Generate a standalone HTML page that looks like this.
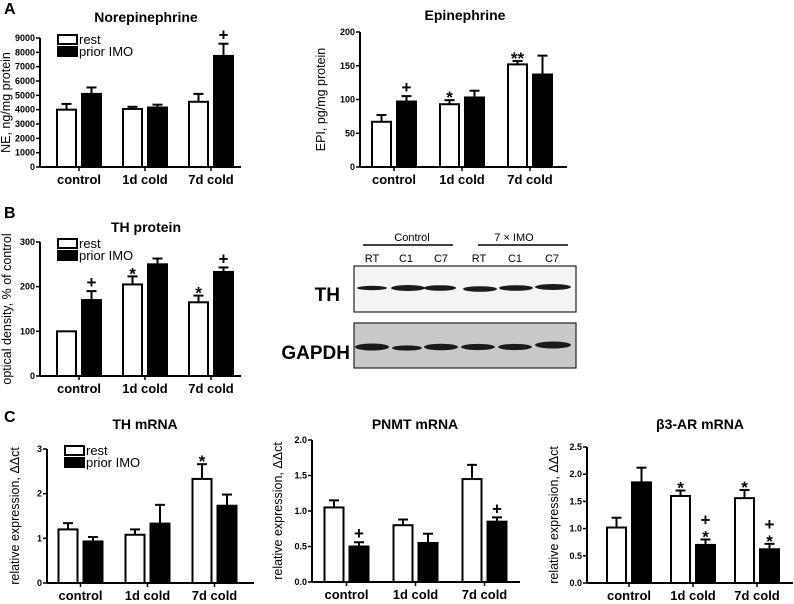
<!DOCTYPE html>
<html><head><meta charset="utf-8">
<style>
html,body{margin:0;padding:0;background:#fff;}
svg{display:block;font-family:"Liberation Sans",Arial,sans-serif;}
.tk{font-size:9px;font-weight:bold;}
.xl{font-size:13px;font-weight:bold;}
.tt{font-size:14px;font-weight:bold;}
.yl{font-size:12.5px;}
.pl{font-size:16px;font-weight:bold;}
.lg{font-size:13px;}
.an{font-size:17px;font-weight:bold;}
</style></head>
<body>
<svg id="fig" width="794" height="604" viewBox="0 0 794 604">
<text class="pl" x="4" y="14">A</text>
<text class="pl" x="4" y="218">B</text>
<text class="pl" x="4" y="422">C</text>

<g>
<text x="412" y="241" font-size="11" text-anchor="middle">Control</text>
<line x1="363" y1="245" x2="453" y2="245" stroke="#000" stroke-width="1.5"/>
<text x="514" y="241" font-size="11" text-anchor="middle">7 × IMO</text>
<line x1="478" y1="245" x2="568" y2="245" stroke="#000" stroke-width="1.5"/>
<g font-size="11" text-anchor="middle">
<text x="372" y="262">RT</text><text x="406" y="262">C1</text><text x="441" y="262">C7</text>
<text x="479" y="262">RT</text><text x="515" y="262">C1</text><text x="552" y="262">C7</text>
</g>
<text x="340" y="301" font-size="19" font-weight="bold" text-anchor="end">TH</text>
<text x="350" y="359" font-size="19" font-weight="bold" text-anchor="end">GAPDH</text>
<rect x="354" y="266" width="222" height="46" fill="#f4f4f4" stroke="#222" stroke-width="1.2"/>
<rect x="354" y="323" width="222" height="45" fill="#c9c9c9" stroke="#222" stroke-width="1.2"/>
<g fill="#1a1a1a">
<ellipse cx="372" cy="288" rx="15" ry="2.2"/><ellipse cx="408" cy="288" rx="17" ry="3"/><ellipse cx="440" cy="288" rx="16" ry="2.8"/>
<ellipse cx="480" cy="289" rx="17" ry="2.8"/><ellipse cx="516" cy="288" rx="17" ry="2.8"/><ellipse cx="553" cy="287" rx="18" ry="3"/>
<ellipse cx="372" cy="347" rx="17" ry="3.5"/><ellipse cx="407" cy="348" rx="15" ry="2.6"/><ellipse cx="441" cy="347" rx="17" ry="3.3"/>
<ellipse cx="478" cy="347" rx="17" ry="3.1"/><ellipse cx="515" cy="347" rx="17" ry="3.1"/><ellipse cx="553" cy="345" rx="18" ry="3.5"/>
</g>
</g>
</svg>
<script>
const categories = ["control","1d cold","7d cold"];

const neRest = [4000,4050,4550];
const neRestErr = [400,150,550];
const neImo = [5100,4150,7750];
const neImoErr = [450,200,850];
const neTicks = [0,1000,2000,3000,4000,5000,6000,7000,8000,9000];

const epiRest = [67,93,152];
const epiRestErr = [10,6,5];
const epiImo = [97,103,137];
const epiImoErr = [8,10,28];
const epiTicks = [0,50,100,150,200];

const thpRest = [100,205,165];
const thpRestErr = [0,18,15];
const thpImo = [170,250,233];
const thpImoErr = [20,13,10];
const thpTicks = [0,100,200,300];

const thmRest = [1.2,1.08,2.33];
const thmRestErr = [0.14,0.12,0.33];
const thmImo = [0.93,1.33,1.73];
const thmImoErr = [0.1,0.42,0.25];
const thmTicks = [0,1,2,3];

const pnmtRest = [1.05,0.8,1.45];
const pnmtRestErr = [0.1,0.08,0.2];
const pnmtImo = [0.5,0.55,0.85];
const pnmtImoErr = [0.06,0.13,0.06];
const pnmtTicks = [0,0.5,1.0,1.5,2.0];

const b3Rest = [1.02,1.6,1.56];
const b3RestErr = [0.18,0.1,0.15];
const b3Imo = [1.85,0.7,0.62];
const b3ImoErr = [0.27,0.1,0.1];
const b3Ticks = [0,0.5,1.0,1.5,2.0,2.5];

const NS="http://www.w3.org/2000/svg";
const fig=document.getElementById('fig');
function mk(tag,attrs,parent,text){const e=document.createElementNS(NS,tag);for(const k in attrs)e.setAttribute(k,attrs[k]);if(text!==undefined)e.textContent=text;parent.appendChild(e);return e;}

function chart(c){
  const g=mk('g',{},fig);
  
  
  const ymax=c.ticks[c.ticks.length-1];
  const y=v=>c.yb-(v/ymax)*(c.yb-c.yt);
  const xc=i=>c.x0+(i+0.5)*c.step;
  const bw=19, off=3;
  const t=mk('text',{class:'tt',x:c.tx,y:c.ty,'text-anchor':'middle'},g,c.title);
  
  
  const yl=mk('text',{class:'yl',transform:`translate(${c.ylx},${(c.yb+c.yt)/2}) rotate(-90)`,'text-anchor':'middle'},g,c.ylabel);
  
  
  const ya=mk('line',{x1:c.ax,y1:c.yt,x2:c.ax,y2:c.yb,stroke:'#000','stroke-width':2},g);
  
  
  const xa=mk('line',{x1:c.ax,y1:c.yb,x2:c.xr,y2:c.yb,stroke:'#000','stroke-width':2},g);
  
  
  c.ticks.forEach(v=>{
    mk('line',{x1:c.ax-4,y1:y(v),x2:c.ax,y2:y(v),stroke:'#000','stroke-width':1.5},g);
    const tl=mk('text',{class:'tk',x:c.ax-5,y:y(v)+3,'text-anchor':'end'},g,c.fmt?c.fmt(v):String(v));
    
    
  });
  categories.forEach((cat,i)=>{
    mk('line',{x1:xc(i),y1:c.yb,x2:xc(i),y2:c.yb+4,stroke:'#000','stroke-width':1.5},g);
    const xl=mk('text',{class:'xl',x:xc(i),y:c.yb+17,'text-anchor':'middle'},g,cat);
    
    
    const series=[[c.rest,c.restErr,'#fff',xc(i)-off-bw,'bar-rest'],[c.imo,c.imoErr,'#000',xc(i)+off,'bar-prior-imo']];
    series.forEach(([vals,errs,fill,bx,nm])=>{
      const v=vals[i], e=errs[i], cx=bx+bw/2;
      if(e>0){
        mk('line',{x1:cx,y1:y(v),x2:cx,y2:y(v+e),stroke:'#000','stroke-width':2},g);
        mk('line',{x1:cx-5,y1:y(v+e),x2:cx+5,y2:y(v+e),stroke:'#000','stroke-width':2},g);
      }
      const r=mk('rect',{x:bx,y:y(v),width:bw,height:c.yb-y(v),fill:fill,stroke:'#000','stroke-width':2},g);
      
      
    });
    const anns=[[c.annRest,c.rest,c.restErr,xc(i)-off-bw/2],[c.annImo,c.imo,c.imoErr,xc(i)+off+bw/2]];
    anns.forEach(([arr,vals,errs,cx])=>{
      if(!arr||!arr[i])return;
      const lines=arr[i].split('|');
      let yy=y(vals[i]+errs[i])-3;
      for(let k=lines.length-1;k>=0;k--){
        const s=lines[k];
        const a=mk('text',{class:'an',x:cx,y:yy+(s.includes('*')?6:0),'text-anchor':'middle'},g,s);
        
        
        yy-=11;
      }
    });
  });
  if(c.legend){
    const lx=c.ax+18, ly=c.yt-3;
    const lg=mk('g',{},g);
    
    
    mk('rect',{x:lx,y:ly,width:19,height:9,fill:'#fff',stroke:'#000','stroke-width':2},lg);
    mk('text',{class:'lg',x:lx+21,y:ly+9},lg,'rest');
    mk('rect',{x:lx-1,y:ly+11,width:21,height:11,fill:'#000'},lg);
    mk('text',{class:'lg',x:lx+21,y:ly+21},lg,'prior IMO');
  }
}
const f1=v=>v.toFixed(1);
chart({name:'norepinephrine-chart',title:'Norepinephrine',tx:146,ty:22,ylabel:'NE, ng/mg protein',ylx:10,ax:40,yt:38,yb:167,xr:241,x0:46,step:66,ticks:neTicks,rest:neRest,restErr:neRestErr,imo:neImo,imoErr:neImoErr,legend:true,annImo:['','','+']});
chart({name:'epinephrine-chart',title:'Epinephrine',tx:465,ty:20,ylabel:'EPI, pg/mg protein',ylx:325,ax:360,yt:32,yb:167,xr:567,x0:360,step:68,ticks:epiTicks,rest:epiRest,restErr:epiRestErr,imo:epiImo,imoErr:epiImoErr,annRest:['','*','**'],annImo:['+','','']});
chart({name:'th-protein-chart',title:'TH protein',tx:146,ty:232,ylabel:'optical density, % of control',ylx:11,ax:40,yt:242,yb:376,xr:241,x0:46,step:66,ticks:thpTicks,rest:thpRest,restErr:thpRestErr,imo:thpImo,imoErr:thpImoErr,legend:true,annRest:['','*','*'],annImo:['+','','+']});
chart({name:'th-mrna-chart',title:'TH mRNA',tx:145,ty:429,ylabel:'relative expression, ΔΔct',ylx:19,ax:47,yt:449,yb:583,xr:254,x0:47,step:67,ticks:thmTicks,rest:thmRest,restErr:thmRestErr,imo:thmImo,imoErr:thmImoErr,legend:true,annRest:['','','*']});
chart({name:'pnmt-mrna-chart',title:'PNMT mRNA',tx:415,ty:429,ylabel:'relative expression, ΔΔct',ylx:282,ax:312,yt:440,yb:582,xr:520,x0:312,step:69,ticks:pnmtTicks,fmt:f1,rest:pnmtRest,restErr:pnmtRestErr,imo:pnmtImo,imoErr:pnmtImoErr,annImo:['+','','+']});
chart({name:'b3-ar-mrna-chart',title:'β3-AR mRNA',tx:700,ty:429,ylabel:'relative expression, ΔΔct',ylx:558,ax:587,yt:447,yb:583,xr:793,x0:597,step:64,ticks:b3Ticks,fmt:f1,rest:b3Rest,restErr:b3RestErr,imo:b3Imo,imoErr:b3ImoErr,annRest:['','*','*'],annImo:['','+|*','+|*']});
</script>
</body></html>
